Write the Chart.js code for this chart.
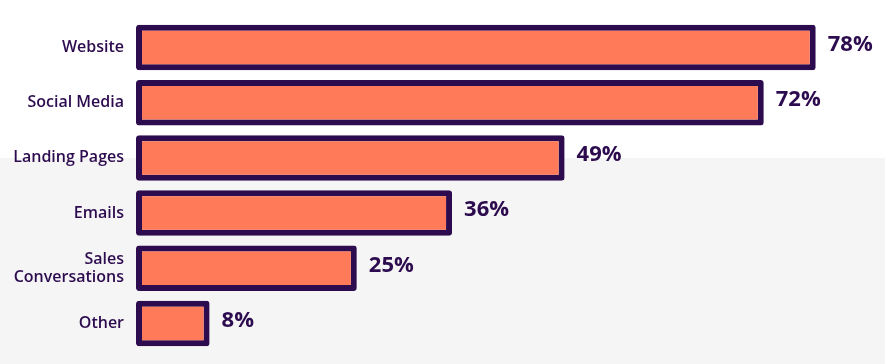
<!DOCTYPE html>
<html>
<head>
<meta charset="utf-8">
<script src="https://cdn.jsdelivr.net/npm/chart.js@4"></script>
<style>
  html, body { margin: 0; padding: 0; background: #fff; overflow: hidden; }
  canvas { display: block; }
</style>
</head>
<body>
<canvas id="chart" width="885" height="364"></canvas>
<script>
const categories = ['Website', 'Social Media', 'Landing Pages', 'Emails', ['Sales', 'Conversations'], 'Other'];
const shares = [78, 72, 49, 36, 25, 8];

const PURPLE = '#2d0b4f';
const CORAL = '#ff7a59';
const BAND = '#f5f5f5';

// grey band behind the lower half, starting at the middle of "Landing Pages"
const bandPlugin = {
  id: 'band',
  beforeDraw(chart) {
    const { ctx, scales: { y } } = chart;
    const top = y.getPixelForValue(2);
    ctx.save();
    ctx.fillStyle = BAND;
    ctx.fillRect(0, top, chart.width, chart.height - top);
    ctx.restore();
  }
};

// percentage labels at the end of each bar
const valueLabels = {
  id: 'valueLabels',
  afterDatasetsDraw(chart) {
    const { ctx } = chart;
    const meta = chart.getDatasetMeta(0);
    ctx.save();
    ctx.font = '700 22px "Open Sans"';
    ctx.fillStyle = PURPLE;
    ctx.textAlign = 'left';
    ctx.textBaseline = 'middle';
    meta.data.forEach((bar, i) => {
      ctx.fillText(shares[i] + '%', bar.x + 12, bar.y - 3);
    });
    ctx.restore();
  }
};

new Chart(document.getElementById('chart'), {
  type: 'bar',
  data: {
    labels: categories,
    datasets: [{
      data: shares,
      base: -0.5,
      backgroundColor: CORAL,
      borderColor: PURPLE,
      borderWidth: 6,
      borderRadius: 3,
      borderSkipped: false,
      barPercentage: 0.825,
      categoryPercentage: 1
    }]
  },
  options: {
    indexAxis: 'y',
    responsive: false,
    animation: false,
    layout: { padding: { top: 20, bottom: 13, left: 0, right: 0 } },
    scales: {
      x: {
        display: false,
        min: -0.5,
        max: 86
      },
      y: {
        grid: { display: false, drawTicks: false },
        border: { display: false },
        afterFit(axis) {
          axis.width = 136;
          // don't let the label heights add extra space above/below
          axis.paddingTop = 0;
          axis.paddingBottom = 0;
        },
        ticks: {
          padding: 12,
          color: PURPLE,
          font: { family: '"Open Sans"', size: 16, weight: '600', lineHeight: 1.1 }
        }
      }
    },
    plugins: {
      legend: { display: false },
      tooltip: { enabled: false }
    }
  },
  plugins: [bandPlugin, valueLabels]
});
</script>
</body>
</html>
